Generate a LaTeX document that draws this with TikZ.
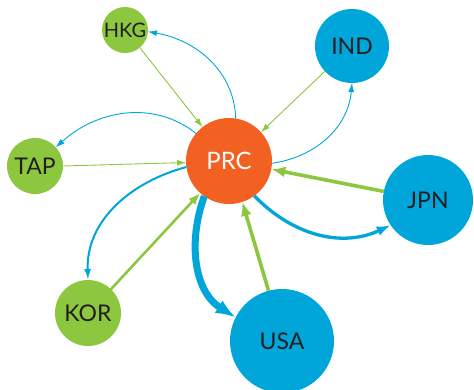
\documentclass[tikz,border=0pt]{standalone}
\usepackage{fontspec}
\setmainfont{Lato}
\usetikzlibrary{arrows.meta}
\definecolor{cgreen}{HTML}{8DC63F}
\definecolor{cblue}{HTML}{00A6DA}
\definecolor{corange}{HTML}{F26022}
\definecolor{ctext}{HTML}{231F20}
\begin{document}
\begin{tikzpicture}[x=1pt,y=1pt,
  country/.style={circle, inner sep=0pt, outer sep=0pt, text=ctext, font=\fontsize{23}{23}\selectfont},
  gnode/.style={country, fill=cgreen},
  bnode/.style={country, fill=cblue},
  onode/.style={country, fill=corange, text=white, font=\fontsize{24}{24}\selectfont},
  gthin/.style={draw=cgreen, line width=0.9pt, -{Latex[length=9pt,width=6pt]}},
  bthin/.style={draw=cblue, line width=0.9pt, -{Latex[length=9pt,width=6pt]}},
  gmid/.style={draw=cgreen, line width=2.6pt, -{Latex[length=12pt,width=9pt]}},
  gthick/.style={draw=cgreen, line width=3.6pt, -{Latex[length=14pt,width=11pt]}},
  bmid/.style={draw=cblue, line width=2pt, -{Latex[length=11pt,width=7pt]}},
  bthick/.style={draw=cblue, line width=3.3pt, -{Latex[length=14pt,width=10pt]}},
  bheavy/.style={draw=cblue, line width=7pt, -{Latex[length=20pt,width=15pt]}}
]
\useasboundingbox (0,0) rectangle (474,-389);
\node[onode, minimum size=86pt] (PRC) at (229,-161) {PRC};
\node[gnode, minimum size=46pt, font=\fontsize{20}{20}\selectfont] (HKG) at (125,-30) {HKG};
\node[gnode, minimum size=56pt] (TAP) at (35,-166) {TAP};
\node[gnode, minimum size=66pt] (KOR) at (88,-313) {KOR};
\node[bnode, minimum size=74pt] (IND) at (352,-46) {IND};
\node[bnode, minimum size=90pt] (JPN) at (428,-200) {JPN};
\node[bnode, minimum size=104pt] (USA) at (282,-341) {USA};

\draw[gthin] (HKG.-50) -- (PRC.128);
\draw[bthin] (PRC.81) to[out=92,in=-10] (HKG.-4);
\draw[bthin] (PRC.140) to[out=142,in=42] (TAP.42);
\draw[gthin] (TAP.0) -- (PRC.182);
\draw[gthin] (IND.223) -- (PRC.42);
\draw[bthin] (PRC.-3) to[out=8,in=-95] (IND.-90);
\draw[gthick] (JPN.169) -- (PRC.-11);
\draw[bthick] (PRC.-54) to[out=-46,in=205] (JPN.214);
\draw[gthick] (USA.105) -- (PRC.-72);
\draw[bheavy] (PRC.-125) to[out=-110,in=148] (USA.153);
\draw[bmid] (PRC.188) to[out=195,in=92] (KOR.90);
\draw[gmid] (KOR.46) -- (PRC.228);
\end{tikzpicture}
\end{document}
